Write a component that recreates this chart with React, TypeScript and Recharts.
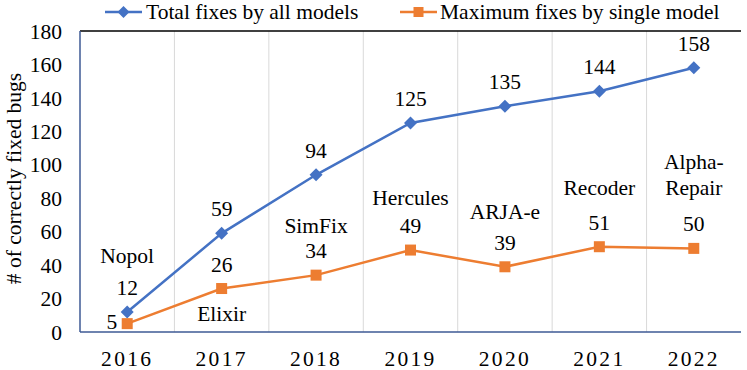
import React from "react";
import {
  LineChart,
  Line,
  XAxis,
  YAxis,
  CartesianGrid,
  ReferenceLine,
  LabelList,
  Legend,
  Label,
} from "recharts";

const years = ["2016", "2017", "2018", "2019", "2020", "2021", "2022"];
const totalFixes = [12, 59, 94, 125, 135, 144, 158];
const maxFixes = [5, 26, 34, 49, 39, 51, 50];
const modelNames = ["Nopol", "Elixir", "SimFix", "Hercules", "ARJA-e", "Recoder", "Alpha-Repair"];
const yTicks = [0, 20, 40, 60, 80, 100, 120, 140, 160, 180];

const seriesNames = ["Total fixes by all models", "Maximum fixes by single model"];

const data = years.map((y, i) => ({ year: y, total: totalFixes[i], max: maxFixes[i] }));

const FONT = "Liberation Serif, Times New Roman, Times, serif";
const BLUE = "#4472C4";
const ORANGE = "#ED7D31";
const AXIS = "#3E5A95";
const FS = 21.5;

// style: vertical offset of model name relative to the orange point
const nameDy = [-68, 25, -49, -52, -55, -59, -60];

const Diamond = (props: any) => {
  const { cx, cy } = props;
  if (cx == null || cy == null) return null;
  const r = 6.5;
  return (
    <polygon
      points={`${cx},${cy - r} ${cx + r},${cy} ${cx},${cy + r} ${cx - r},${cy}`}
      fill={BLUE}
    />
  );
};

const Square = (props: any) => {
  const { cx, cy } = props;
  if (cx == null || cy == null) return null;
  const s = 11;
  return <rect x={cx - s / 2} y={cy - s / 2} width={s} height={s} fill={ORANGE} />;
};

const txtStyle = { fontFamily: FONT, fontSize: FS };

const renderTotalLabel = (props: any) => {
  const { x, y, value } = props;
  return (
    <text x={x} y={y - 24} textAnchor="middle" dominantBaseline="central" style={txtStyle} fill="#000">
      {value}
    </text>
  );
};

const renderMaxLabel = (props: any) => {
  const { x, y, value, index } = props;
  const name = modelNames[index];
  const numEl =
    index === 0 ? (
      <text x={x - 10} y={y - 2} textAnchor="end" dominantBaseline="central" style={txtStyle} fill="#000">
        {value}
      </text>
    ) : (
      <text x={x} y={y - 24} textAnchor="middle" dominantBaseline="central" style={txtStyle} fill="#000">
        {value}
      </text>
    );
  const parts =
    name.includes("-") && name.length > 8
      ? [name.slice(0, name.indexOf("-") + 1), name.slice(name.indexOf("-") + 1)]
      : [name];
  const baseY = y + nameDy[index];
  return (
    <g>
      {numEl}
      {parts.map((p, k) => (
        <text
          key={k}
          x={x}
          y={baseY - (parts.length - 1 - k) * 26}
          textAnchor="middle"
          dominantBaseline="central"
          style={txtStyle}
          fill="#000"
        >
          {p}
        </text>
      ))}
    </g>
  );
};

const LegendIcon = ({ color, shape }: { color: string; shape: "diamond" | "square" }) => (
  <svg width={37} height={14} style={{ display: "block" }}>
    <line x1={0} y1={7} x2={37} y2={7} stroke={color} strokeWidth={2.5} />
    {shape === "diamond" ? (
      <polygon points="18.5,1 24.5,7 18.5,13 12.5,7" fill={color} />
    ) : (
      <rect x={13.5} y={2} width={10} height={10} fill={color} />
    )}
  </svg>
);

const renderLegend = () => (
  <div style={{ position: "relative", width: 747, height: 26, fontFamily: FONT, fontSize: FS, color: "#000" }}>
    <div style={{ position: "absolute", left: 105, top: 5 }}>
      <LegendIcon color={BLUE} shape="diamond" />
    </div>
    <div style={{ position: "absolute", left: 146, top: 0, lineHeight: "24px", whiteSpace: "nowrap" }}>{seriesNames[0]}</div>
    <div style={{ position: "absolute", left: 400, top: 5 }}>
      <LegendIcon color={ORANGE} shape="square" />
    </div>
    <div style={{ position: "absolute", left: 440, top: 0, lineHeight: "24px", whiteSpace: "nowrap" }}>{seriesNames[1]}</div>
  </div>
);

const YTitle = (props: any) => {
  const { viewBox } = props;
  const cx = viewBox.x + 14;
  const cy = viewBox.y + viewBox.height / 2 - 3;
  return (
    <text
      x={cx}
      y={cy}
      transform={`rotate(-90, ${cx}, ${cy})`}
      textAnchor="middle"
      dominantBaseline="central"
      style={{ fontFamily: FONT, fontSize: 21.5 }}
      fill="#000"
    >
      # of correctly fixed bugs
    </text>
  );
};

export default function App() {
  return (
    <div style={{ position: "absolute", left: 0, top: 0, width: 747, height: 370, background: "#fff", fontFamily: FONT }}>
      <LineChart width={747} height={370} data={data} margin={{ top: 31, right: 6, bottom: 0, left: 0 }}>
        <CartesianGrid
          horizontal={false}
          vertical={true}
          stroke="#D9D9D9"
          strokeWidth={1}
          verticalCoordinatesGenerator={(args: any) => {
            const off = args.offset;
            const n = years.length;
            const res: number[] = [];
            for (let i = 1; i < n; i++) res.push(off.left + (off.width * i) / n);
            return res;
          }}
        />
        <XAxis
          dataKey="year"
          scale="band"
          height={38}
          tickLine={false}
          tickSize={0}
          tickMargin={19}
          axisLine={{ stroke: AXIS, strokeWidth: 1.5 }}
          tick={{ style: txtStyle, fill: "#000", letterSpacing: 2.3 }}
          interval={0}
        />
        <YAxis
          width={80}
          domain={[0, 180]}
          ticks={yTicks}
          tickLine={false}
          tickSize={0}
          tickMargin={18}
          axisLine={{ stroke: AXIS, strokeWidth: 1.5 }}
          tick={{ style: txtStyle, fill: "#000" }}
          interval={0}
        >
          <Label content={<YTitle />} />
        </YAxis>
        <YAxis
          yAxisId="right"
          orientation="right"
          width={0}
          domain={[0, 180]}
          tick={false}
          tickLine={false}
          axisLine={{ stroke: "#000", strokeWidth: 1.5 }}
        />
        <ReferenceLine y={180} stroke="#000" strokeWidth={1.5} ifOverflow="extendDomain" />
        <Legend
          layout="horizontal"
          verticalAlign="middle"
          align="center"
          content={renderLegend}
          wrapperStyle={{ top: 0, left: 0, width: 747, height: 26 }}
        />
        <Line
          type="linear"
          dataKey="total"
          name={seriesNames[0]}
          stroke={BLUE}
          strokeWidth={2.5}
          dot={<Diamond />}
          activeDot={false}
          isAnimationActive={false}
        >
          <LabelList dataKey="total" content={renderTotalLabel} />
        </Line>
        <Line
          type="linear"
          dataKey="max"
          name={seriesNames[1]}
          stroke={ORANGE}
          strokeWidth={2.5}
          dot={<Square />}
          activeDot={false}
          isAnimationActive={false}
        >
          <LabelList dataKey="max" content={renderMaxLabel} />
        </Line>
      </LineChart>
    </div>
  );
}
